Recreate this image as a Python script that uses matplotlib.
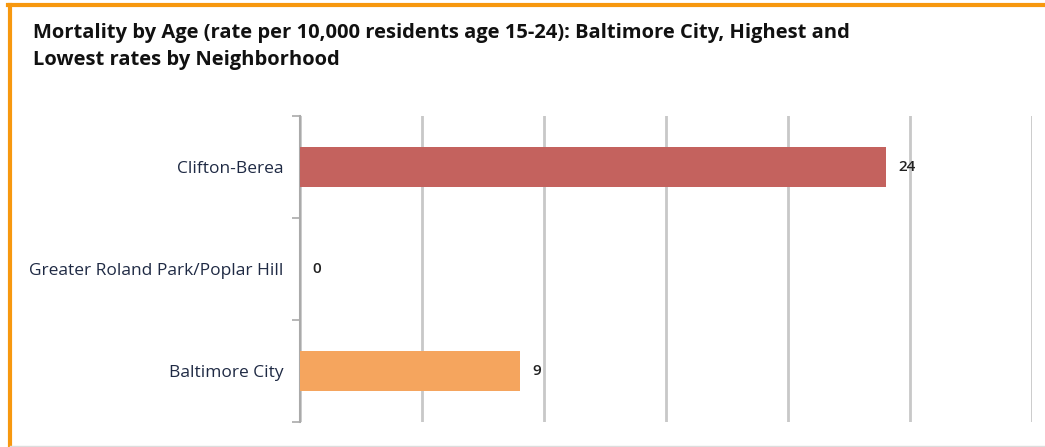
import matplotlib.pyplot as plt
from matplotlib.lines import Line2D

plt.rcParams['font.family'] = ['Open Sans', 'DejaVu Sans']

# data
neighborhoods = ['Clifton-Berea', 'Greater Roland Park/Poplar Hill', 'Baltimore City']
rates = [24, 0, 9]
bar_colors = ['#C4625E', '#F0F0F0', '#F5A55E']
title = ('Mortality by Age (rate per 10,000 residents age 15-24): Baltimore City, Highest and\n'
         'Lowest rates by Neighborhood')

fig = plt.figure(figsize=(10.45, 4.47), dpi=100)
ax = fig.add_axes([0.287, 0.056, 0.7005, 0.685])

ypos = list(range(len(neighborhoods)))
ax.barh(ypos, rates, height=0.39, color=bar_colors, zorder=3)

for y, v in zip(ypos, rates):
    ax.annotate(str(v), (v, y), xytext=(9, 0), textcoords='offset points',
                va='center', ha='left', fontsize=11, fontweight='semibold', color='#222222')

ax.set_xlim(0, 30)
ax.set_ylim(2.5, -0.5)
ax.set_xticks(range(0, 31, 5))
ax.tick_params(axis='x', length=0, labelbottom=False)
ax.grid(axis='x', color='#c8c8c8', linewidth=2, zorder=0)

# ticks at category borders, labels at centers
ax.set_yticks([-0.5, 0.5, 1.5, 2.5])
ax.set_yticklabels([])
ax.tick_params(axis='y', which='major', length=6, color='#aaaaaa', width=1.2)
ax.set_yticks(ypos, minor=True)
ax.set_yticklabels(neighborhoods, minor=True, fontsize=12.5, color='#1f2a44')
ax.tick_params(axis='y', which='minor', length=0, pad=12)

for s in ['top', 'right', 'bottom']:
    ax.spines[s].set_visible(False)
ax.spines['left'].set_color('#aaaaaa')
ax.spines['left'].set_linewidth(1.5)

fig.text(33 / 1045, 1 - 23 / 447, title, fontsize=14.5, fontweight='bold',
         va='top', ha='left', color='#111111', linespacing=1.5)

# orange frame (top and left) and light bottom edge
W, H = 1045, 447
fig.add_artist(Line2D([8 / W, 1], [1 - 5 / H, 1 - 5 / H], color='#F7980F', linewidth=3,
                      transform=fig.transFigure))
fig.add_artist(Line2D([10 / W, 10 / W], [0, 1 - 5 / H], color='#F7980F', linewidth=3,
                      transform=fig.transFigure))
fig.add_artist(Line2D([10 / W, 1], [1.2 / H, 1.2 / H], color='#dddddd', linewidth=1,
                      transform=fig.transFigure))

fig.savefig('out.png', dpi=100)
